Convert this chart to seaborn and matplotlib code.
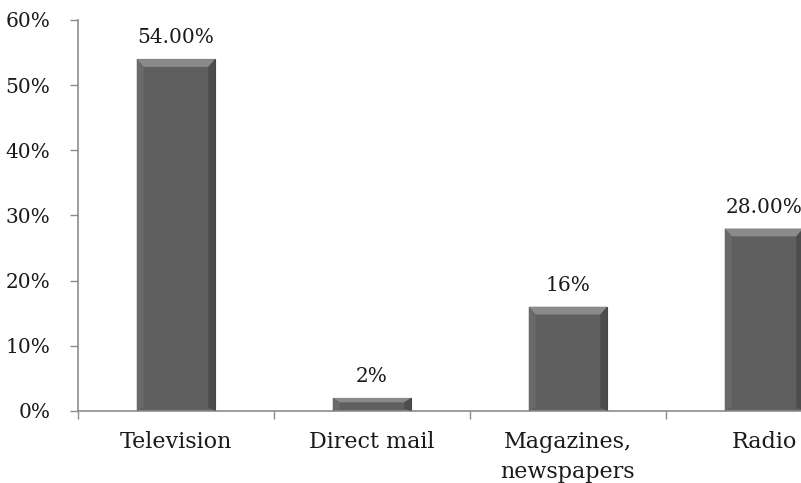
import matplotlib
matplotlib.use("Agg")
import matplotlib.pyplot as plt
import pandas as pd
import seaborn as sns
from matplotlib.patches import Polygon
from matplotlib.ticker import FixedLocator, PercentFormatter

categories = ["Television", "Direct mail", "Magazines,\nnewspapers", "Radio"]
values = [54, 2, 16, 28]
value_labels = ["54.00%", "2%", "16%", "28.00%"]
y_ticks = [0, 10, 20, 30, 40, 50, 60]

df = pd.DataFrame({"medium": categories, "share": values})

sns.set_theme(style="white")
plt.rcParams["font.family"] = ["DejaVu Serif"]

fig = plt.figure(figsize=(8.01, 4.83), dpi=100)
ax = fig.add_axes([78 / 801, 72 / 483, 784 / 801, 391 / 483])

sns.barplot(data=df, x="medium", y="share", ax=ax, color="#5f5f5f",
            width=0.4, edgecolor="#454545", linewidth=0.8, saturation=1)

# bevel look on each bar, built from the bar geometry
for bar in ax.patches:
    x0, y0 = bar.get_x(), bar.get_y()
    w, h = bar.get_width(), bar.get_height()
    bx = 0.035
    by = min(1.2, h / 3)
    x1, y1 = x0 + w, y0 + h
    top = Polygon([(x0, y1), (x1, y1), (x1 - bx, y1 - by), (x0 + bx, y1 - by)],
                  closed=True, facecolor="#8a8a8a", edgecolor="none", zorder=3)
    left = Polygon([(x0, y0), (x0, y1), (x0 + bx, y1 - by), (x0 + bx, y0 + by * 0.5)],
                   closed=True, facecolor="#6a6a6a", edgecolor="none", zorder=3)
    right = Polygon([(x1, y0), (x1, y1), (x1 - bx, y1 - by), (x1 - bx, y0 + by * 0.5)],
                    closed=True, facecolor="#4c4c4c", edgecolor="none", zorder=3)
    for p in (top, left, right):
        ax.add_patch(p)

for i, (v, lab) in enumerate(zip(values, value_labels)):
    ax.text(i, v + 1.8, lab, ha="center", va="bottom", fontsize=14.5, color="#1a1a1a")

ax.set_xlim(-0.5, 3.5)
ax.set_ylim(0, 60)
ax.set_yticks(y_ticks)
ax.yaxis.set_major_formatter(PercentFormatter(decimals=0))
ax.set_xlabel("")
ax.set_ylabel("")

ax.xaxis.set_minor_locator(FixedLocator([-0.5, 0.5, 1.5, 2.5, 3.5]))
ax.tick_params(axis="x", which="major", length=0, pad=14.5, labelsize=16, labelcolor="#1a1a1a")
ax.tick_params(axis="x", which="minor", length=6, width=1, color="#8c8c8c", direction="out", bottom=True)
ax.tick_params(axis="y", which="major", length=6, width=1, color="#8c8c8c", direction="out",
               left=True, pad=14, labelsize=14.5, labelcolor="#1a1a1a")
for t in ax.get_xticklabels():
    t.set_linespacing(1.45)

for side in ("top", "right"):
    ax.spines[side].set_visible(False)
for side in ("left", "bottom"):
    ax.spines[side].set_color("#8c8c8c")
    ax.spines[side].set_linewidth(1.2)

fig.savefig("out.png", dpi=100)
